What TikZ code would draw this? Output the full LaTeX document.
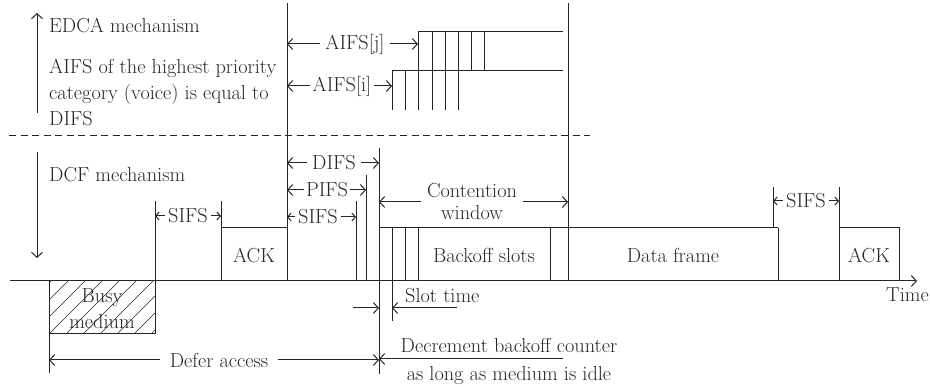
\documentclass[tikz,border=0pt]{standalone}
\usepackage{fontspec}
\usetikzlibrary{arrows.meta}
\tikzset{
  ln/.style={line width=1pt, draw=black!85},
  hatch/.style={line width=0.7pt, draw=black!85},
  arr/.style={ln, -{Straight Barb[length=5pt,width=11pt]}},
  sarr/.style={ln, -{Straight Barb[length=3.5pt,width=8pt]}},
  lbl/.style={inner sep=2pt, font=\fontsize{20.3}{24}\selectfont, text=black!85},
  albl/.style={lbl, inner xsep=5pt},
}
\begin{document}
\begin{tikzpicture}[x=1pt,y=-1pt]
\useasboundingbox (0,0) rectangle (930,387);

% vertical reference coordinates
\coordinate (v49) at (49,0);
\coordinate (v155) at (155,0);
\coordinate (v221) at (221,0);
\coordinate (v287) at (287,0);
\coordinate (v356) at (356,0);
\coordinate (v366) at (366,0);
\coordinate (v379) at (379,0);
\coordinate (v392) at (392,0);
\coordinate (v418) at (418,0);
\coordinate (v568) at (568,0);
\coordinate (v773) at (773,0);
\coordinate (v839) at (839,0);

% hatched busy medium
\begin{scope}
  \clip (49,281) rectangle (155,334);
  \foreach \i in {-68,-51,...,120} \draw[hatch] (49+\i,334) -- (102+\i,281);
\end{scope}
\draw[ln] (49,373) -- (49,281);
\draw[ln] (49,334) -- (155,334);
\draw[ln] (155,201) -- (155,334);

% time axis
\coordinate (t0) at (10,281);
\coordinate (t1) at (917,281);
\draw[arr] (t0) -- (t1);

% first SIFS / ACK
\draw[ln] (221,201) -- (221,281);
\draw[ln] (221,228) -- (287,228);

% main vertical lines
\draw[ln] (287,3) -- (287,281);
\draw[ln] (356,201) -- (356,281);
\draw[ln] (366,175) -- (366,281);
\draw[ln] (379,148) -- (379,374);
\draw[ln] (379,228) -- (778,228);
\draw[ln] (392,228) -- (392,321);
\draw[ln] (405,228) -- (405,281);
\draw[ln] (418,228) -- (418,281);
\draw[ln] (550,228) -- (550,281);
\draw[ln] (568,3) -- (568,281);
\draw[ln] (778,228) -- (778,281);
\draw[ln] (773,187) -- (773,228);
\draw[ln] (839,187) -- (839,281);
\draw[ln] (839,228) -- (899,228) -- (899,281);

% EDCA steps
\draw[ln] (418,110) -- (418,32) -- (563,32);
\foreach \x in {432,445,458} \draw[ln] (\x,32) -- (\x,110);
\foreach \x in {471,484} \draw[ln] (\x,32) -- (\x,71);
\draw[ln] (392,110) -- (392,71) -- (563,71);
\draw[ln] (405,71) -- (405,110);

% dashed separator
\draw[ln, dash pattern=on 7pt off 4.5pt] (9,136) -- (590,136);

% mechanism arrows
\coordinate (eb) at (37,113); \coordinate (et) at (37,13);
\coordinate (db) at (37,152); \coordinate (dt) at (37,258);
\draw[arr] (eb) -- (et);
\draw[arr] (db) -- (dt);

% left texts
\node[lbl, anchor=base west, inner sep=0pt] (edca) at (49,33) {EDCA mechanism};
\node[lbl, anchor=base west, inner sep=0pt] (aifs1) at (49,74) {AIFS of the highest priority};
\node[lbl, anchor=base west, inner sep=0pt] (aifs2) at (49,100) {category (voice) is equal to};
\node[lbl, anchor=base west, inner sep=0pt] (aifs3) at (49,126) {DIFS};
\node[lbl, anchor=base west, inner sep=0pt] (dcf) at (49,182) {DCF mechanism};

% AIFS labels
\node[albl] (aifsj) at (355,44) {AIFS[j]};
\draw[arr] (aifsj.west) -- (aifsj.west -| v287);
\draw[arr] (aifsj.east) -- (aifsj.east -| v418);
\node[albl, inner xsep=3pt] (aifsi) at (342,86) {AIFS[i]};
\draw[arr] (aifsi.west) -- (aifsi.west -| v287);
\draw[arr] (aifsi.east) -- (aifsi.east -| v392);

% DIFS / PIFS / SIFS
\node[albl] (difs) at (334,163) {DIFS};
\draw[arr] (difs.west) -- (difs.west -| v287);
\draw[arr] (difs.east) -- (difs.east -| v379);
\node[albl, inner xsep=2pt] (pifs) at (327,190) {PIFS};
\draw[arr] (pifs.west) -- (pifs.west -| v287);
\draw[arr] (pifs.east) -- (pifs.east -| v366);
\node[albl, inner xsep=3pt] (sifsb) at (318,217) {SIFS};
\draw[sarr] (sifsb.west) -- (sifsb.west -| v287);
\draw[sarr] (sifsb.east) -- (sifsb.east -| v356);

\node[albl, inner xsep=3pt] (sifsa) at (188,216) {SIFS};
\draw[sarr] (sifsa.west) -- (sifsa.west -| v155);
\draw[sarr] (sifsa.east) -- (sifsa.east -| v221);

\node[albl, inner xsep=3pt] (sifsc) at (806,201) {SIFS};
\draw[sarr] (sifsc.west) -- (sifsc.west -| v773);
\draw[sarr] (sifsc.east) -- (sifsc.east -| v839);

% contention window
\node[albl, align=center, font=\fontsize{20.3}{22}\selectfont, inner xsep=6pt] (cw) at (472,201) {Contention\\window};
\coordinate (cwl) at ([yshift=-1pt]cw.west);
\coordinate (cwr) at ([yshift=-1pt]cw.east);
\draw[arr] (cwl) -- (cwl -| v379);
\draw[arr] (cwr) -- (cwr -| v568);

% box labels
\node[lbl, anchor=base] (ack1) at (254,263) {ACK};
\node[lbl, anchor=base] (bos) at (484,263) {Backoff slots};
\node[lbl, anchor=base] (df) at (673,263) {Data frame};
\node[lbl, anchor=base] (ack2) at (869,263) {ACK};
\node[lbl, align=center, font=\fontsize{20.3}{26}\selectfont] (busy) at (102,309) {Busy\\medium};

% time label
\node[lbl, anchor=base west, inner sep=0pt] (time) at (886,302) {Time};

% slot time
\node[lbl, anchor=base west, inner sep=0pt] (slot) at (405,303) {Slot time};
\coordinate (st1) at (353,308);
\coordinate (st2) at (457,308);
\draw[arr] (st1) -- (st1 -| v379);
\draw[arr] (st2) -- (st2 -| v392);

% defer access
\node[lbl, inner xsep=10pt] (defer) at (219,360) {Defer access};
\draw[arr] (defer.west) -- (defer.west -| v49);
\draw[arr] (defer.east) -- (defer.east -| v379);

% decrement
\node[lbl, align=center, font=\fontsize{20.3}{28}\selectfont] (dec) at (509,361) {Decrement backoff counter\\as long as medium is idle};
\coordinate (de) at (563,359);
\draw[arr] (de) -- (de -| v379);

\end{tikzpicture}
\end{document}
